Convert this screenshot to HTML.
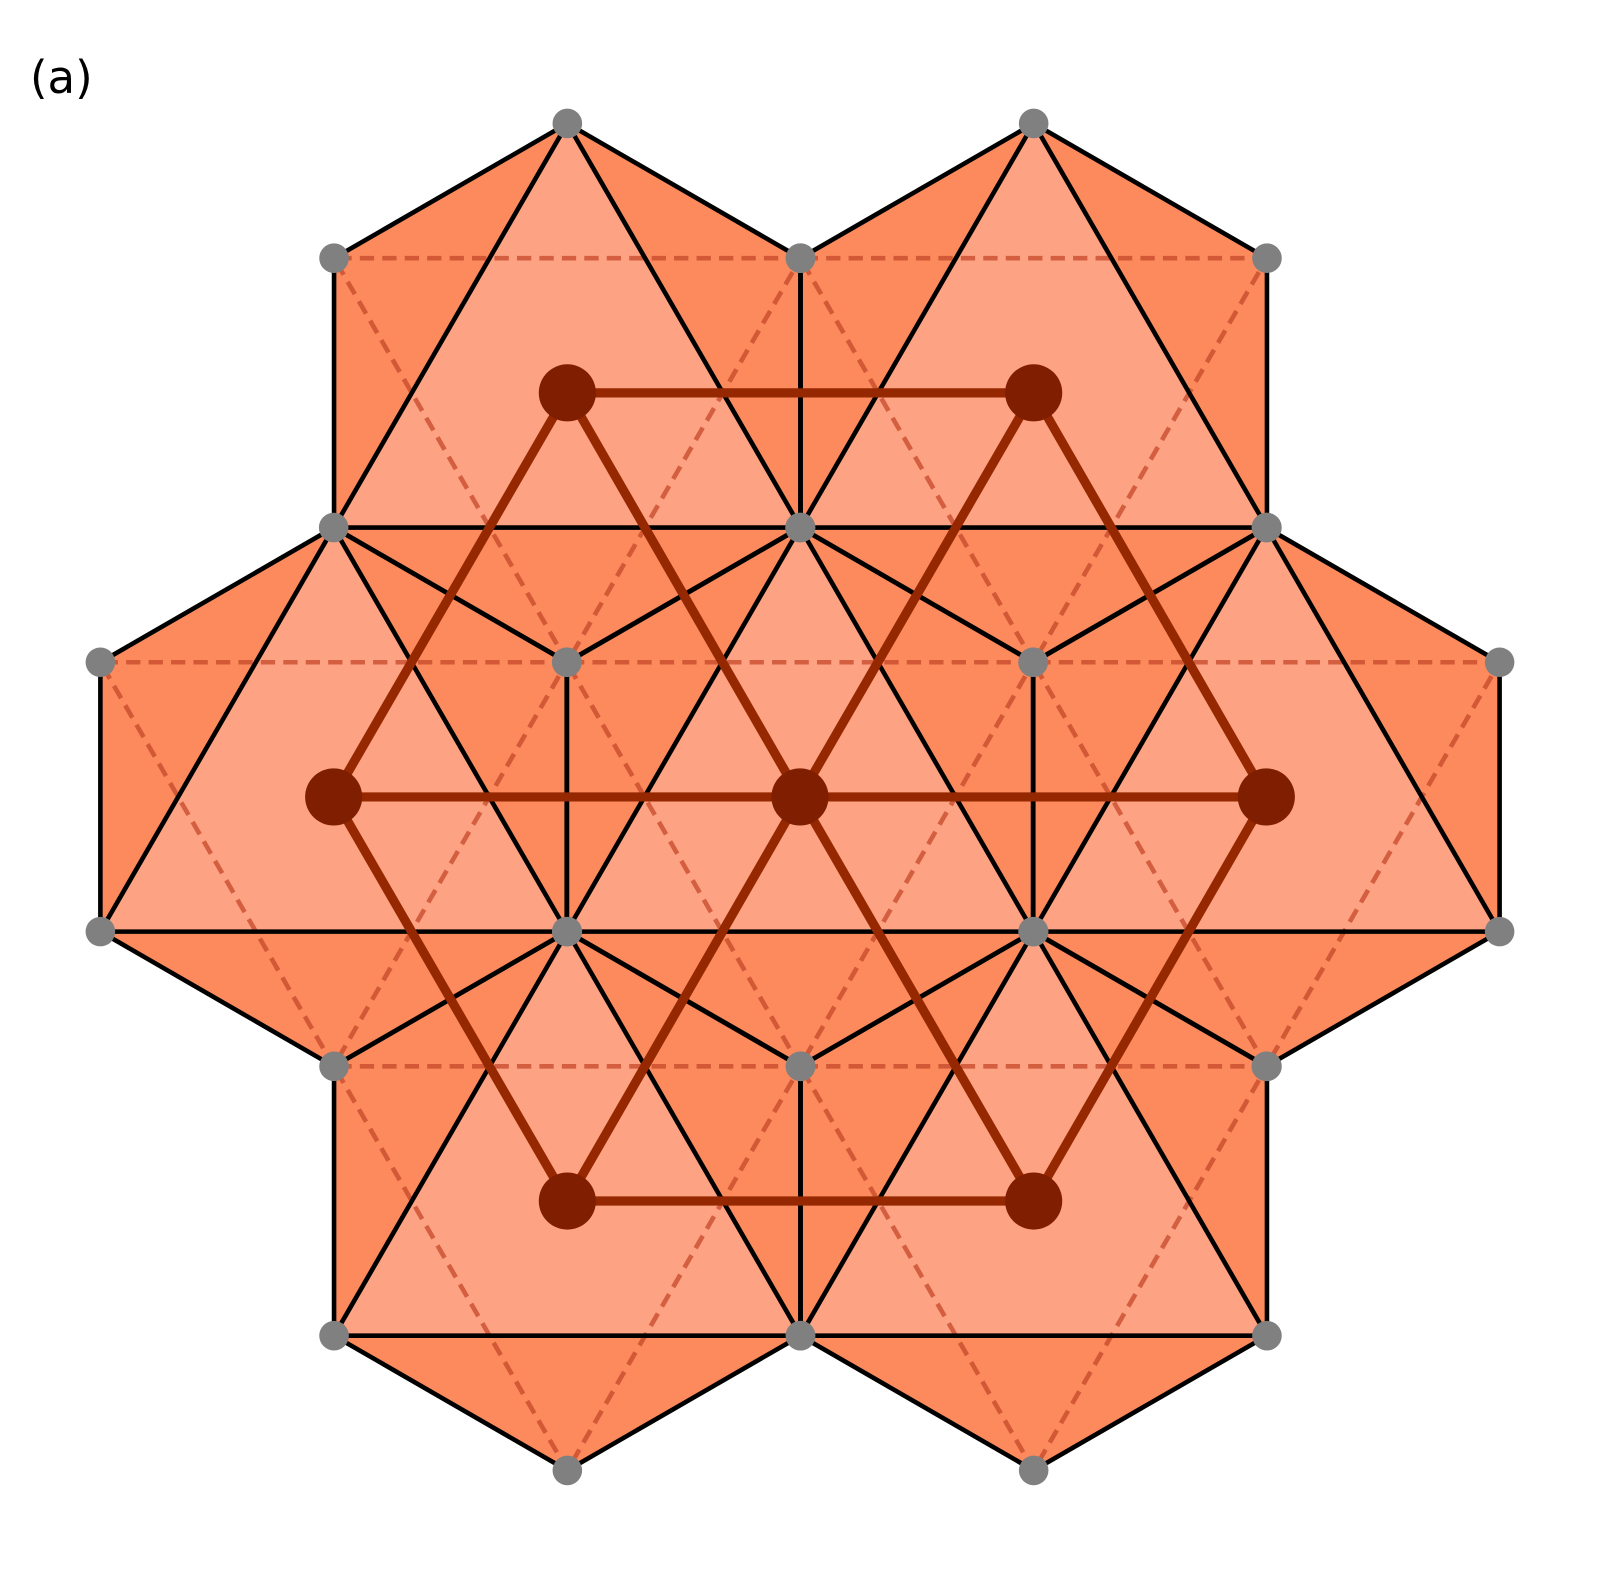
<!DOCTYPE html>
<html><head><meta charset="utf-8">
<style>html,body{margin:0;padding:0;background:#fff;overflow:hidden;}svg{display:block;}</style>
</head><body>
<svg id="chart" width="1600" height="1594" viewBox="0 0 1600 1594" xmlns="http://www.w3.org/2000/svg">
<text x="30" y="93" font-family="DejaVu Sans, Liberation Sans, sans-serif" font-size="45" fill="#000">(a)</text>
<g transform="scale(1.0204)">
<g id="fills"></g><g id="dashes"></g><g id="lines"></g><g id="links"></g><g id="dots"></g>
</g>
</svg>
<script>
const cx = [556, 1013, 327, 784, 1241, 556, 1013];
const cy = [385, 385, 781, 781, 781, 1177, 1177];
const links = [[0,1],[0,2],[0,3],[1,3],[1,4],[2,3],[3,4],[2,5],[3,5],[3,6],[4,6],[5,6]];
const R = 264;
const NS = 'http://www.w3.org/2000/svg';
function mk(tag, attrs, parent){const e=document.createElementNS(NS,tag);for(const k in attrs)e.setAttribute(k,attrs[k]);document.getElementById(parent).appendChild(e);return e;}
function pt(i,angDeg){const a=angDeg*Math.PI/180;return [cx[i]+R*Math.cos(a), cy[i]-R*Math.sin(a)];}
const verts = {};
for(let i=0;i<cx.length;i++){
  const hex=[90,30,-30,-90,-150,150].map(a=>pt(i,a));
  hex.forEach(p=>{verts[Math.round(p[0])+','+Math.round(p[1])]=p;});
  const hs=hex.map(p=>p.join(',')).join(' ');
  let e=mk('polygon',{points:hs,fill:'#fc8a5d',stroke:'none'},'fills');
  
  
  const up=[90,-30,-150].map(a=>pt(i,a)).map(p=>p.join(',')).join(' ');
  e=mk('polygon',{points:up,fill:'#fda282',stroke:'none'},'fills');
  
  
  e=mk('polygon',{points:up,fill:'none',stroke:'#000','stroke-width':4.5,'stroke-linejoin':'round'},'lines');
  
  
  const dn=[30,150,-90].map(a=>pt(i,a)).map(p=>p.join(',')).join(' ');
  e=mk('polygon',{points:dn,fill:'none',stroke:'#c4472a','stroke-width':4.5,'stroke-dasharray':'14,8','stroke-opacity':0.75},'dashes');
  
  
  e=mk('polygon',{points:hs,fill:'none',stroke:'#000','stroke-width':4.5,'stroke-linejoin':'round'},'lines');
  
  
}
links.forEach(l=>{
  const e=mk('line',{x1:cx[l[0]],y1:cy[l[0]],x2:cx[l[1]],y2:cy[l[1]],stroke:'#952800','stroke-width':9},'links');
  
  
});
for(let i=0;i<cx.length;i++){
  const e=mk('circle',{cx:cx[i],cy:cy[i],r:28,fill:'#7f1e00'},'dots');
  
  
}
Object.values(verts).forEach(p=>{
  const e=mk('circle',{cx:p[0],cy:p[1],r:14.5,fill:'#808080'},'dots');
  
  
});
</script>
</body></html>
